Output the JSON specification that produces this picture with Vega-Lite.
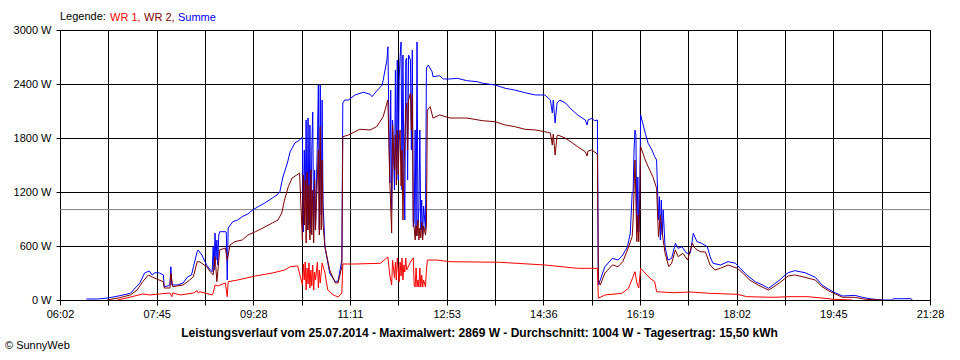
{
  "$schema": "https://vega.github.io/schema/vega-lite/v6.json",
  "width": 870,
  "height": 270,
  "autosize": {"type": "none"},
  "padding": {"left": 60, "top": 30, "right": 30, "bottom": 60},
  "background": "white",
  "title": {"text": "© SunnyWeb", "orient": "bottom", "anchor": "start", "frame": "group", "dx": -55, "offset": 2, "fontSize": 11, "fontWeight": "normal", "color": "black", "font": "Liberation Sans"},
  "config": {
    "font": "Liberation Sans",
    "view": {"stroke": "black", "strokeWidth": 1},
    "axis": {"grid": true, "gridColor": "black", "gridOpacity": 1, "gridWidth": 1, "domainColor": "black", "domainWidth": 1, "tickColor": "black", "tickWidth": 1, "labelColor": "black", "labelFont": "Liberation Sans", "labelFontSize": 11, "labelOverlap": false, "labelFlush": false},
    "axisX": {"tickSize": 5, "labelPadding": 3},
    "axisY": {"tickSize": 4, "labelPadding": 5}
  },
  "datasets": {
    "summe": [
      {"t":390,"w":11},{"t":402,"w":11},{"t":413,"w":22},{"t":424,"w":44},{"t":437,"w":74},{"t":442,"w":133},{"t":447,"w":189},{"t":452,"w":300},{"t":457,"w":322},{"t":460,"w":278},{"t":463,"w":303},{"t":468,"w":300},{"t":472,"w":278},{"t":473,"w":148},{"t":477,"w":156},{"t":479,"w":167},{"t":480,"w":370},{"t":481,"w":167},{"t":487,"w":167},{"t":493,"w":189},{"t":498,"w":259},{"t":502,"w":278},{"t":504,"w":370},{"t":508,"w":537},{"t":509,"w":556},{"t":513,"w":500},{"t":518,"w":389},{"t":522,"w":333},{"t":524,"w":314},{"t":525,"w":592},{"t":526,"w":333},{"t":527,"w":744},{"t":528,"w":444},{"t":529,"w":667},{"t":530,"w":389},{"t":531,"w":722},{"t":532,"w":759},{"t":538,"w":759},{"t":539,"w":756},{"t":540,"w":222},{"t":541,"w":800},{"t":546,"w":870},{"t":551,"w":889},{"t":556,"w":926},{"t":562,"w":956},{"t":567,"w":1000},{"t":573,"w":1037},{"t":580,"w":1078},{"t":588,"w":1133},{"t":593,"w":1167},{"t":596,"w":1203},{"t":599,"w":1356},{"t":604,"w":1522},{"t":607,"w":1648},{"t":612,"w":1744},{"t":617,"w":1778},{"t":620,"w":1811},{"t":621,"w":756},{"t":622,"w":1667},{"t":623,"w":1111},{"t":624,"w":2000},{"t":625,"w":778},{"t":626,"w":2022},{"t":627,"w":833},{"t":628,"w":1944},{"t":629,"w":744},{"t":630,"w":1667},{"t":631,"w":2089},{"t":632,"w":778},{"t":633,"w":1444},{"t":634,"w":833},{"t":636,"w":1778},{"t":637,"w":2389},{"t":638,"w":778},{"t":639,"w":2389},{"t":640,"w":944},{"t":641,"w":2222},{"t":642,"w":1078},{"t":644,"w":592},{"t":649,"w":300},{"t":655,"w":203},{"t":658,"w":211},{"t":662,"w":444},{"t":663,"w":2189},{"t":665,"w":2222},{"t":669,"w":2222},{"t":676,"w":2278},{"t":685,"w":2308},{"t":692,"w":2286},{"t":694,"w":2259},{"t":699,"w":2322},{"t":705,"w":2389},{"t":708,"w":2556},{"t":710,"w":2667},{"t":711,"w":2814},{"t":713,"w":1300},{"t":714,"w":2333},{"t":715,"w":1000},{"t":716,"w":2000},{"t":718,"w":1222},{"t":719,"w":2556},{"t":720,"w":1444},{"t":721,"w":2667},{"t":722,"w":1333},{"t":723,"w":2444},{"t":724,"w":2703},{"t":725,"w":2867},{"t":726,"w":1222},{"t":727,"w":2722},{"t":728,"w":1444},{"t":729,"w":889},{"t":730,"w":2667},{"t":731,"w":2689},{"t":732,"w":1333},{"t":733,"w":2722},{"t":735,"w":2667},{"t":736,"w":1667},{"t":737,"w":2778},{"t":738,"w":814},{"t":739,"w":856},{"t":740,"w":1889},{"t":741,"w":711},{"t":742,"w":2867},{"t":743,"w":833},{"t":744,"w":1000},{"t":745,"w":1889},{"t":746,"w":778},{"t":747,"w":1111},{"t":748,"w":711},{"t":749,"w":1044},{"t":751,"w":778},{"t":752,"w":2578},{"t":754,"w":2611},{"t":758,"w":2537},{"t":759,"w":2481},{"t":766,"w":2492},{"t":770,"w":2456},{"t":777,"w":2456},{"t":785,"w":2463},{"t":795,"w":2437},{"t":806,"w":2426},{"t":812,"w":2408},{"t":825,"w":2389},{"t":836,"w":2352},{"t":846,"w":2333},{"t":857,"w":2303},{"t":868,"w":2278},{"t":878,"w":2278},{"t":884,"w":2222},{"t":886,"w":2078},{"t":887,"w":2222},{"t":889,"w":1967},{"t":891,"w":2189},{"t":894,"w":2222},{"t":900,"w":2189},{"t":907,"w":2111},{"t":913,"w":2056},{"t":921,"w":2000},{"t":923,"w":1944},{"t":924,"w":2000},{"t":928,"w":2019},{"t":931,"w":1992},{"t":934,"w":2000},{"t":935,"w":167},{"t":937,"w":222},{"t":942,"w":370},{"t":950,"w":463},{"t":956,"w":444},{"t":961,"w":500},{"t":966,"w":592},{"t":969,"w":744},{"t":971,"w":1189},{"t":972,"w":1200},{"t":973,"w":1667},{"t":974,"w":1889},{"t":975,"w":1833},{"t":976,"w":756},{"t":977,"w":1367},{"t":978,"w":756},{"t":979,"w":1111},{"t":980,"w":2056},{"t":985,"w":1852},{"t":988,"w":1741},{"t":992,"w":1667},{"t":995,"w":1592},{"t":997,"w":1556},{"t":999,"w":889},{"t":1000,"w":1148},{"t":1001,"w":667},{"t":1002,"w":1111},{"t":1003,"w":722},{"t":1004,"w":1000},{"t":1006,"w":592},{"t":1009,"w":444},{"t":1013,"w":463},{"t":1017,"w":630},{"t":1020,"w":574},{"t":1024,"w":592},{"t":1029,"w":519},{"t":1033,"w":522},{"t":1036,"w":741},{"t":1040,"w":648},{"t":1045,"w":630},{"t":1051,"w":592},{"t":1054,"w":481},{"t":1057,"w":408},{"t":1065,"w":389},{"t":1073,"w":426},{"t":1081,"w":408},{"t":1086,"w":352},{"t":1093,"w":278},{"t":1102,"w":203},{"t":1110,"w":167},{"t":1116,"w":130},{"t":1121,"w":167},{"t":1128,"w":222},{"t":1134,"w":278},{"t":1137,"w":303},{"t":1144,"w":326},{"t":1155,"w":303},{"t":1166,"w":252},{"t":1173,"w":167},{"t":1180,"w":119},{"t":1187,"w":81},{"t":1195,"w":44},{"t":1208,"w":52},{"t":1216,"w":30},{"t":1226,"w":11},{"t":1237,"w":0},{"t":1248,"w":0},{"t":1249,"w":14},{"t":1268,"w":14},{"t":1269,"w":0}
    ],
    "wr2": [
      {"t":412,"w":0},{"t":424,"w":22},{"t":437,"w":56},{"t":444,"w":111},{"t":450,"w":203},{"t":456,"w":278},{"t":460,"w":256},{"t":465,"w":233},{"t":472,"w":203},{"t":473,"w":133},{"t":479,"w":133},{"t":480,"w":300},{"t":482,"w":148},{"t":493,"w":167},{"t":500,"w":222},{"t":504,"w":259},{"t":508,"w":426},{"t":511,"w":422},{"t":518,"w":370},{"t":522,"w":314},{"t":525,"w":278},{"t":527,"w":481},{"t":529,"w":203},{"t":532,"w":556},{"t":538,"w":578},{"t":540,"w":444},{"t":543,"w":611},{"t":548,"w":648},{"t":556,"w":667},{"t":562,"w":722},{"t":570,"w":759},{"t":578,"w":800},{"t":588,"w":856},{"t":594,"w":889},{"t":598,"w":967},{"t":601,"w":1111},{"t":605,"w":1259},{"t":609,"w":1356},{"t":614,"w":1389},{"t":617,"w":1411},{"t":620,"w":667},{"t":621,"w":1389},{"t":622,"w":833},{"t":623,"w":1333},{"t":624,"w":633},{"t":625,"w":1422},{"t":626,"w":778},{"t":627,"w":1278},{"t":628,"w":667},{"t":629,"w":1444},{"t":630,"w":722},{"t":631,"w":1222},{"t":632,"w":633},{"t":633,"w":1333},{"t":634,"w":778},{"t":636,"w":1389},{"t":637,"w":1667},{"t":638,"w":722},{"t":639,"w":1922},{"t":640,"w":778},{"t":641,"w":1556},{"t":642,"w":833},{"t":644,"w":592},{"t":649,"w":333},{"t":655,"w":189},{"t":658,"w":189},{"t":662,"w":370},{"t":663,"w":1814},{"t":669,"w":1833},{"t":676,"w":1870},{"t":681,"w":1897},{"t":692,"w":1889},{"t":699,"w":1926},{"t":706,"w":2037},{"t":710,"w":2189},{"t":711,"w":2222},{"t":713,"w":1333},{"t":715,"w":744},{"t":716,"w":1944},{"t":718,"w":1444},{"t":719,"w":1833},{"t":720,"w":1278},{"t":721,"w":1889},{"t":722,"w":1389},{"t":723,"w":1778},{"t":724,"w":1889},{"t":725,"w":1267},{"t":726,"w":1667},{"t":727,"w":889},{"t":728,"w":1389},{"t":729,"w":1778},{"t":730,"w":2111},{"t":731,"w":2189},{"t":732,"w":1667},{"t":733,"w":2222},{"t":735,"w":2300},{"t":736,"w":1889},{"t":737,"w":2278},{"t":738,"w":870},{"t":739,"w":800},{"t":740,"w":667},{"t":741,"w":833},{"t":742,"w":711},{"t":743,"w":889},{"t":744,"w":667},{"t":745,"w":800},{"t":746,"w":689},{"t":747,"w":867},{"t":748,"w":667},{"t":749,"w":822},{"t":751,"w":722},{"t":752,"w":833},{"t":753,"w":2111},{"t":756,"w":2148},{"t":759,"w":2022},{"t":766,"w":2056},{"t":777,"w":2022},{"t":795,"w":2022},{"t":812,"w":1992},{"t":825,"w":1981},{"t":836,"w":1944},{"t":846,"w":1926},{"t":857,"w":1897},{"t":868,"w":1889},{"t":878,"w":1870},{"t":884,"w":1856},{"t":886,"w":1722},{"t":887,"w":1844},{"t":889,"w":1611},{"t":891,"w":1822},{"t":892,"w":1833},{"t":900,"w":1797},{"t":907,"w":1748},{"t":913,"w":1703},{"t":921,"w":1648},{"t":923,"w":1600},{"t":924,"w":1656},{"t":928,"w":1667},{"t":934,"w":1622},{"t":935,"w":222},{"t":937,"w":167},{"t":942,"w":300},{"t":950,"w":389},{"t":956,"w":370},{"t":961,"w":426},{"t":966,"w":556},{"t":971,"w":703},{"t":972,"w":889},{"t":973,"w":1222},{"t":974,"w":1556},{"t":975,"w":1111},{"t":976,"w":648},{"t":977,"w":944},{"t":978,"w":648},{"t":979,"w":967},{"t":980,"w":1703},{"t":985,"w":1556},{"t":988,"w":1481},{"t":993,"w":1370},{"t":997,"w":1241},{"t":999,"w":703},{"t":1001,"w":944},{"t":1003,"w":741},{"t":1006,"w":519},{"t":1010,"w":370},{"t":1013,"w":408},{"t":1017,"w":556},{"t":1020,"w":481},{"t":1025,"w":519},{"t":1030,"w":444},{"t":1035,"w":630},{"t":1038,"w":574},{"t":1043,"w":537},{"t":1049,"w":533},{"t":1054,"w":389},{"t":1059,"w":333},{"t":1065,"w":352},{"t":1073,"w":389},{"t":1083,"w":352},{"t":1089,"w":297},{"t":1096,"w":222},{"t":1105,"w":167},{"t":1116,"w":111},{"t":1121,"w":141},{"t":1128,"w":192},{"t":1134,"w":241},{"t":1137,"w":267},{"t":1144,"w":278},{"t":1155,"w":252},{"t":1166,"w":222},{"t":1173,"w":148},{"t":1180,"w":103},{"t":1187,"w":67},{"t":1195,"w":30},{"t":1208,"w":30},{"t":1219,"w":8},{"t":1237,"w":0}
    ],
    "wr1": [
      {"t":423,"w":0},{"t":433,"w":22},{"t":450,"w":67},{"t":458,"w":56},{"t":468,"w":67},{"t":479,"w":78},{"t":481,"w":37},{"t":482,"w":78},{"t":490,"w":56},{"t":504,"w":78},{"t":508,"w":103},{"t":509,"w":78},{"t":511,"w":92},{"t":516,"w":78},{"t":524,"w":56},{"t":525,"w":78},{"t":527,"w":167},{"t":530,"w":156},{"t":538,"w":189},{"t":540,"w":37},{"t":541,"w":203},{"t":551,"w":222},{"t":570,"w":267},{"t":588,"w":300},{"t":601,"w":333},{"t":607,"w":370},{"t":615,"w":378},{"t":620,"w":167},{"t":621,"w":400},{"t":622,"w":222},{"t":623,"w":422},{"t":624,"w":111},{"t":625,"w":356},{"t":626,"w":178},{"t":627,"w":411},{"t":628,"w":133},{"t":629,"w":333},{"t":630,"w":156},{"t":631,"w":389},{"t":632,"w":111},{"t":633,"w":311},{"t":634,"w":222},{"t":636,"w":422},{"t":637,"w":133},{"t":638,"w":333},{"t":639,"w":189},{"t":641,"w":411},{"t":644,"w":300},{"t":647,"w":111},{"t":653,"w":56},{"t":658,"w":33},{"t":662,"w":78},{"t":663,"w":400},{"t":676,"w":400},{"t":703,"w":408},{"t":708,"w":452},{"t":711,"w":478},{"t":713,"w":278},{"t":715,"w":167},{"t":716,"w":444},{"t":718,"w":244},{"t":719,"w":422},{"t":720,"w":222},{"t":721,"w":467},{"t":722,"w":333},{"t":723,"w":200},{"t":724,"w":422},{"t":725,"w":267},{"t":726,"w":467},{"t":727,"w":222},{"t":728,"w":389},{"t":729,"w":311},{"t":730,"w":467},{"t":731,"w":333},{"t":735,"w":422},{"t":738,"w":467},{"t":739,"w":167},{"t":740,"w":144},{"t":741,"w":356},{"t":742,"w":144},{"t":743,"w":222},{"t":744,"w":144},{"t":745,"w":356},{"t":746,"w":144},{"t":747,"w":278},{"t":748,"w":144},{"t":749,"w":222},{"t":751,"w":144},{"t":752,"w":333},{"t":753,"w":444},{"t":763,"w":444},{"t":777,"w":426},{"t":830,"w":419},{"t":878,"w":389},{"t":913,"w":352},{"t":934,"w":352},{"t":935,"w":19},{"t":942,"w":56},{"t":960,"w":74},{"t":967,"w":130},{"t":972,"w":259},{"t":974,"w":314},{"t":976,"w":189},{"t":978,"w":133},{"t":980,"w":352},{"t":985,"w":297},{"t":990,"w":241},{"t":995,"w":203},{"t":997,"w":92},{"t":1015,"w":81},{"t":1033,"w":89},{"t":1054,"w":74},{"t":1083,"w":63},{"t":1093,"w":37},{"t":1121,"w":30},{"t":1139,"w":37},{"t":1158,"w":37},{"t":1176,"w":19},{"t":1185,"w":8},{"t":1205,"w":0}
    ],
    "avg": [{"w": 1004}]
  },
  "layer": [
    {
      "data": {"name": "avg"},
      "mark": {"type": "rule", "color": "#808080", "strokeWidth": 1},
      "encoding": {
        "y": {"field": "w", "type": "quantitative", "scale": {"domain": [0, 3000], "nice": false}, "axis": {"values": [0, 600, 1200, 1800, 2400, 3000], "labelExpr": "datum.value + ' W'", "title": null}}
      }
    },
    {
      "data": {"name": "summe"},
      "mark": {"type": "line", "strokeWidth": 1, "clip": true},
      "encoding": {
        "x": {"field": "t", "type": "quantitative", "scale": {"domain": [362, 1288], "nice": false, "zero": false}, "axis": {"values": [362, 413.444, 464.889, 516.333, 567.778, 619.222, 670.667, 722.111, 773.556, 825, 876.444, 927.889, 979.333, 1030.778, 1082.222, 1133.667, 1185.111, 1236.556, 1288], "labelExpr": "(round((datum.value-362)/51.4444)%2==0) ? ['06:02','07:45','09:28','11:11','12:53','14:36','16:19','18:02','19:45','21:28'][round((datum.value-362)/102.8889)] : ''", "title": "Leistungsverlauf vom 25.07.2014 - Maximalwert: 2869 W - Durchschnitt: 1004 W - Tagesertrag: 15,50 kWh", "titleFont": "Liberation Sans", "titleFontSize": 12, "titleFontWeight": "bold", "titleColor": "black", "titlePadding": 8, "titleX": 419}},
        "y": {"field": "w", "type": "quantitative", "scale": {"domain": [0, 3000], "nice": false}, "axis": {"values": [0, 600, 1200, 1800, 2400, 3000], "labelExpr": "datum.value + ' W'", "title": null}},
        "color": {"datum": "Summe", "type": "nominal", "scale": {"domain": ["WR 1", "WR 2", "Summe"], "range": ["#ff0000", "#800000", "#0000ff"]}, "legend": {"orient": "top", "direction": "horizontal", "title": "Legende:", "titleOrient": "left", "titleFont": "Liberation Sans", "titleFontSize": 11, "titleFontWeight": "normal", "titleColor": "black", "titlePadding": 5, "labelFont": "Liberation Sans", "labelFontSize": 11, "symbolSize": 0, "symbolStrokeWidth": 0, "symbolOpacity": 0, "labelOffset": -12, "columnPadding": 3, "offset": 7, "padding": 0, "labelExpr": "datum.label == 'Summe' ? datum.label : datum.label + ','", "encode": {"labels": {"update": {"fill": {"scale": "color", "field": "value"}}}}}}
      }
    },
    {
      "data": {"name": "wr1"},
      "mark": {"type": "line", "strokeWidth": 1, "clip": true},
      "encoding": {
        "x": {"field": "t", "type": "quantitative", "scale": {"domain": [362, 1288], "nice": false, "zero": false}},
        "y": {"field": "w", "type": "quantitative", "scale": {"domain": [0, 3000], "nice": false}},
        "color": {"datum": "WR 1", "type": "nominal"}
      }
    },
    {
      "data": {"name": "wr2"},
      "mark": {"type": "line", "strokeWidth": 1, "clip": true},
      "encoding": {
        "x": {"field": "t", "type": "quantitative", "scale": {"domain": [362, 1288], "nice": false, "zero": false}},
        "y": {"field": "w", "type": "quantitative", "scale": {"domain": [0, 3000], "nice": false}},
        "color": {"datum": "WR 2", "type": "nominal"}
      }
    }
  ]
}
